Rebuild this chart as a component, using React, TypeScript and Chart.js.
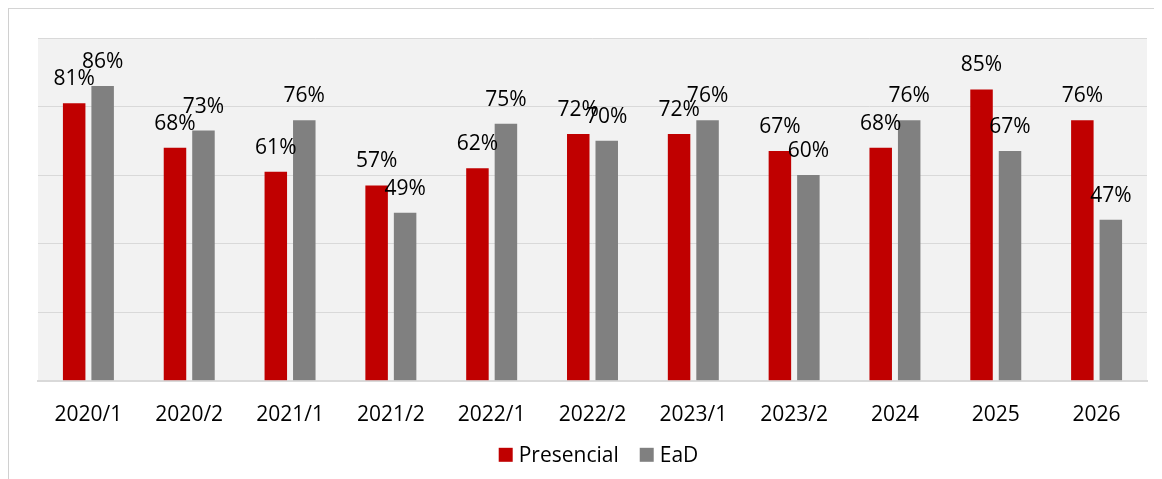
import React, { useEffect, useRef } from "react";
import { Chart, registerables } from "chart.js";

Chart.register(...registerables);

const categories = ["2020/1", "2020/2", "2021/1", "2021/2", "2022/1", "2022/2", "2023/1", "2023/2", "2024", "2025", "2026"];
const presencial = [81, 68, 61, 57, 62, 72, 72, 67, 68, 85, 76];
const ead = [86, 73, 76, 49, 75, 70, 76, 60, 76, 67, 47];
const seriesNames = ["Presencial", "EaD"];
const seriesColors = ["#c00000", "#808080"];
const yTicks = [0, 20, 40, 60, 80, 100];

const FONT = "'Open Sans', sans-serif";
const FONT_SIZE = 21;

const plotBg = {
  id: "plotBg",
  beforeDraw(chart: any) {
    const { ctx, chartArea } = chart;
    ctx.save();
    ctx.fillStyle = "#f2f2f2";
    ctx.fillRect(chartArea.left, chartArea.top, chartArea.right - chartArea.left, chartArea.bottom - chartArea.top);
    ctx.restore();
  },
};

const valueLabels = {
  id: "valueLabels",
  afterDatasetsDraw(chart: any) {
    const { ctx } = chart;
    ctx.save();
    ctx.font = `${FONT_SIZE}px ${FONT}`;
    ctx.fillStyle = "#000";
    ctx.textAlign = "center";
    ctx.textBaseline = "alphabetic";
    chart.data.datasets.forEach((ds: any, i: number) => {
      const meta = chart.getDatasetMeta(i);
      meta.data.forEach((el: any, j: number) => {
        ctx.fillText(`${ds.data[j]}%`, el.x, el.y - 18);
      });
    });
    ctx.restore();
  },
};

const customLegend = {
  id: "customLegend",
  afterDraw(chart: any) {
    const { ctx, chartArea } = chart;
    ctx.save();
    ctx.font = `${FONT_SIZE}px ${FONT}`;
    ctx.textBaseline = "middle";
    ctx.textAlign = "left";
    const box = 14;
    const gapText = 6;
    const gapItem = 21;
    const widths = chart.data.datasets.map((ds: any) => box + gapText + ctx.measureText(ds.label).width);
    const total = widths.reduce((a: number, b: number) => a + b, 0) + gapItem * (widths.length - 1);
    const cx = (chartArea.left + chartArea.right) / 2 + 6;
    let x = cx - total / 2;
    const y = chartArea.bottom + 74;
    chart.data.datasets.forEach((ds: any, i: number) => {
      ctx.fillStyle = ds.backgroundColor;
      ctx.fillRect(x, y - box / 2, box, box);
      ctx.fillStyle = "#000";
      ctx.fillText(ds.label, x + box + gapText, y + 1);
      x += widths[i] + gapItem;
    });
    ctx.restore();
  },
};

export default function App() {
  const ref = useRef<HTMLCanvasElement>(null);
  useEffect(() => {
    if (!ref.current) return;
    const chart = new Chart(ref.current, {
      type: "bar",
      data: {
        labels: categories,
        datasets: [
          { label: seriesNames[0], data: presencial, backgroundColor: seriesColors[0], categoryPercentage: 0.565, barPercentage: 0.79 },
          { label: seriesNames[1], data: ead, backgroundColor: seriesColors[1], categoryPercentage: 0.565, barPercentage: 0.79 },
        ],
      },
      options: {
        responsive: false,
        animation: false,
        layout: { padding: { left: 29, right: 15, top: 29, bottom: 29 } },
        plugins: {
          legend: { display: false },
          tooltip: { enabled: false },
        },
        scales: {
          x: {
            grid: { display: false, drawTicks: false },
            border: { display: true, color: "#d9d9d9", width: 2 },
            ticks: { color: "#000", font: { family: FONT, size: FONT_SIZE }, padding: 22, maxRotation: 0 },
          },
          y: {
            min: 0,
            max: 100,
            afterBuildTicks: (axis: any) => {
              axis.ticks = yTicks.map((v) => ({ value: v }));
            },
            grid: { color: "#d9d9d9", drawTicks: false },
            border: { display: false },
            ticks: { display: false },
          },
        },
      },
      plugins: [plotBg, valueLabels, customLegend],
    });
    return () => chart.destroy();
  }, []);

  return (
    <div
      style={{
        position: "relative",
        width: 1154,
        height: 471,
        borderTop: "1px solid #d4d4d4",
        borderLeft: "1px solid #d0d0d0",
        boxSizing: "border-box",
        background: "#fff",
      }}
    >
      <canvas ref={ref} width={1153} height={470} style={{ display: "block" }} />
    </div>
  );
}
